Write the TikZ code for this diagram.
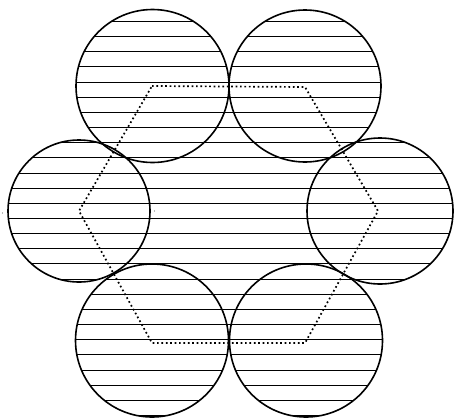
\documentclass[tikz,border=0pt]{standalone}
\begin{document}
\begin{tikzpicture}[x=1pt,y=-1pt,
  ring/.style={draw=black,line width=1.6pt},
  hatchline/.style={draw=black,line width=1pt},
  hexline/.style={draw=black,line width=1.7pt,dash pattern=on 1.7pt off 2.7pt},
  speck/.style={fill=black!55,draw=none}]
\useasboundingbox (0,0) rectangle (454,418);
\coordinate (TL) at (152.5,86);
\coordinate (TR) at (305,86);
\coordinate (L) at (79,211);
\coordinate (R) at (380,211);
\coordinate (BL) at (152,340.5);
\coordinate (BR) at (306,340.5);
\coordinate (hTL) at (152,86);
\coordinate (hTR) at (305,87);
\coordinate (hR) at (378,211);
\coordinate (hBR) at (305,343);
\coordinate (hBL) at (152,343);
\coordinate (hL) at (79,211);
\newcommand{\hatchall}{%
  \foreach \k in {0,...,26}{\draw[hatchline] (0,21.4+15.16*\k) -- (454,21.4+15.16*\k);}}
\foreach \c/\r in {TL/76.5,TR/76,L/71,R/73,BL/76.5,BR/76.5}{
  \begin{scope}
    \clip (\c) circle[radius=\r];
    \hatchall
  \end{scope}}
\begin{scope}
  \clip (hTL) -- (hTR) -- (hR) -- (hBR) -- (hBL) -- (hL) -- cycle;
  \hatchall
\end{scope}
\draw[hexline] (hTL) -- (hTR) -- (hR) -- (hBR) -- (hBL) -- (hL) -- cycle;
\foreach \c/\r in {TL/76.5,TR/76,L/71,R/73,BL/76.5,BR/76.5}{
  \draw[ring] (\c) circle[radius=\r];}
\coordinate (s1) at (2.5,213);
\coordinate (s2) at (154.5,211);
\fill[speck] (s1) circle[radius=0.7];
\fill[speck] (s2) circle[radius=0.7];
\end{tikzpicture}
\end{document}
